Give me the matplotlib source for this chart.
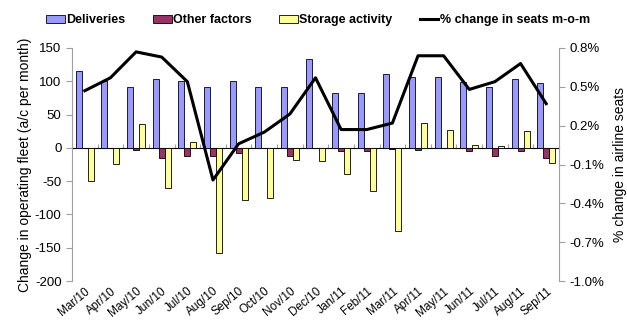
import matplotlib
matplotlib.use("Agg")
import matplotlib.pyplot as plt
import numpy as np
from matplotlib.patches import Patch
from matplotlib.lines import Line2D

plt.rcParams['font.family'] = ['Liberation Sans', 'DejaVu Sans']

months = ["Mar/10", "Apr/10", "May/10", "Jun/10", "Jul/10", "Aug/10", "Sep/10", "Oct/10",
          "Nov/10", "Dec/10", "Jan/11", "Feb/11", "Mar/11", "Apr/11", "May/11", "Jun/11",
          "Jul/11", "Aug/11", "Sep/11"]
deliveries = [115, 101, 91, 103, 100, 91, 101, 91, 91, 134, 82, 82, 111, 106, 107, 99, 91, 103, 98]
other_factors = [0, 0, -3, -15, -12, -12, -8, 0, -12, 0, -4, -5, -2, -3, 0, -4, -12, -5, -15]
storage = [-50, -24, 36, -60, 9, -158, -78, -75, -18, -20, -40, -65, -125, 37, 27, 4, 3, 25, -22]
seat_change = [0.47, 0.57, 0.77, 0.73, 0.54, -0.22, 0.06, 0.15, 0.29, 0.57, 0.17, 0.17, 0.22,
               0.74, 0.74, 0.48, 0.54, 0.68, 0.37]
right_ticks = [0.8, 0.5, 0.2, -0.1, -0.4, -0.7, -1.0]
left_ticks = [150, 100, 50, 0, -50, -100, -150, -200]

fig = plt.figure(figsize=(6.27, 3.2), dpi=100)
ax = fig.add_axes([72/627, 1-281/320, (559-72)/627, (281-48)/320])
x = np.arange(len(months))
w = 0.235
edge = dict(edgecolor='black', linewidth=0.6)
ax.bar(x - w, deliveries, w, color='#9999FF', **edge, zorder=2)
ax.bar(x, other_factors, w, color='#993366', **edge, zorder=2)
ax.bar(x + w, storage, w, color='#FFFF99', **edge, zorder=2)

ax.set_xlim(-0.5, len(months) - 0.5)
ax.set_ylim(-200, 150)
ax.set_yticks(left_ticks)
ax.set_yticklabels([str(v) for v in left_ticks], fontsize=9.5)
for s in ['top', 'right', 'bottom']:
    ax.spines[s].set_visible(False)
ax.spines['left'].set_color('#A0A0A0')
ax.tick_params(axis='y', colors='#A0A0A0', labelcolor='black', length=4, width=0.8)
ax.set_xticks(x)
ax.set_xticklabels(months, rotation=40, ha='right', rotation_mode='anchor', fontsize=8.5)
ax.tick_params(axis='x', length=0, pad=3)
ax.set_ylabel("Change in operating fleet (a/c per month)", fontsize=10, labelpad=2)

# zero line with category tick marks
sec = ax.secondary_xaxis(200/350)
sec.set_xticks(np.arange(-0.5, len(months), 1.0))
sec.set_xticklabels([])
sec.tick_params(axis='x', direction='out', length=3, colors='#A0A0A0', width=0.8)
sec.spines['bottom'].set_color('#A0A0A0')
sec.spines['bottom'].set_linewidth(0.8)

ax2 = ax.twinx()
ax2.plot(x, seat_change, color='black', linewidth=2.2, zorder=5)
ax2.set_ylim(-1.0, 0.8)
ax2.set_yticks(right_ticks)
ax2.set_yticklabels([f"{v:.1f}%" for v in right_ticks], fontsize=9.5)
for s in ['top', 'left', 'bottom']:
    ax2.spines[s].set_visible(False)
ax2.spines['right'].set_color('#A0A0A0')
ax2.tick_params(axis='y', colors='#A0A0A0', labelcolor='black', length=4, width=0.8)
ax2.set_ylabel("% change in airline seats", fontsize=10, labelpad=6)

handles = [Patch(facecolor='#9999FF', edgecolor='black', linewidth=0.6, label='Deliveries'),
           Patch(facecolor='#993366', edgecolor='black', linewidth=0.6, label='Other factors'),
           Patch(facecolor='#FFFF99', edgecolor='black', linewidth=0.6, label='Storage activity'),
           Line2D([0], [0], color='black', linewidth=2.2, label='% change in seats m-o-m')]
fig.legend(handles=handles, loc='center', bbox_to_anchor=(318/627, 1-20/320), ncol=4,
           frameon=False, prop={'weight': 'bold', 'size': 9}, handlelength=1.5,
           handleheight=0.6, handletextpad=0.1, columnspacing=2.2)

fig.savefig("out.png", dpi=100)
